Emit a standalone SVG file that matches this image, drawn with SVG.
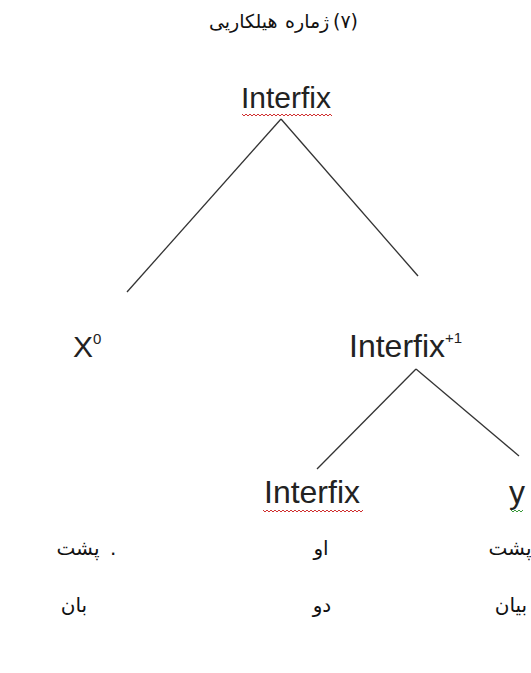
<svg xmlns="http://www.w3.org/2000/svg" width="531" height="673" viewBox="0 0 531 673">
<style>
.lat{font-family:"Liberation Sans",Arial,sans-serif;font-size:30px;fill:#222}
.big{font-size:32px}
.ar{font-family:"DejaVu Sans","Noto Sans",sans-serif;font-size:20px;fill:#111}
.tt{font-size:19px}
.sup{font-size:15px}
.edge{stroke:#333;stroke-width:1.3;fill:none}
.wavy{fill:none;stroke-width:1}
</style>
<rect width="531" height="673" fill="#fff"/>
<g id="title">
<text class="ar tt" x="209" y="28">هیلکاریی</text>
<text class="ar tt" x="285" y="28">ژماره</text>
<text class="ar tt" x="333" y="28">(۷)</text>
</g>
<g id="connectors">
<line class="edge" x1="281" y1="119" x2="127" y2="292"/>
<line class="edge" x1="281" y1="119" x2="418" y2="276"/>
<line class="edge" x1="416" y1="369" x2="317" y2="469"/>
<line class="edge" x1="416" y1="369" x2="519" y2="456"/>
</g>
<g id="n-interfix-top">
<text class="lat" x="286" y="108" text-anchor="middle">Interfix</text>
<path class="wavy" stroke="#d03030" d="M242 114 l2 2 l2 -2 l2 2 l2 -2 l2 2 l2 -2 l2 2 l2 -2 l2 2 l2 -2 l2 2 l2 -2 l2 2 l2 -2 l2 2 l2 -2 l2 2 l2 -2 l2 2 l2 -2 l2 2 l2 -2 l2 2 l2 -2 l2 2 l2 -2 l2 2 l2 -2 l2 2 l2 -2 l2 2 l2 -2 l2 2 l2 -2 l2 2 l2 -2 l2 2 l2 -2 l2 2 l2 -2 l2 2 l2 -2 l2 2 l2 -2 l2 2"/>
</g>
<g id="n-x0">
<text class="lat" x="73" y="357">X<tspan class="sup" dy="-13">0</tspan></text>
</g>
<g id="n-interfix1">
<text class="lat big" x="349" y="357">Interfix<tspan class="sup" dy="-14">+1</tspan></text>
</g>
<g id="n-interfix-bottom">
<text class="lat big" x="312" y="503" text-anchor="middle">Interfix</text>
<path class="wavy" stroke="#d03030" d="M263 510 l2 2 l2 -2 l2 2 l2 -2 l2 2 l2 -2 l2 2 l2 -2 l2 2 l2 -2 l2 2 l2 -2 l2 2 l2 -2 l2 2 l2 -2 l2 2 l2 -2 l2 2 l2 -2 l2 2 l2 -2 l2 2 l2 -2 l2 2 l2 -2 l2 2 l2 -2 l2 2 l2 -2 l2 2 l2 -2 l2 2 l2 -2 l2 2 l2 -2 l2 2 l2 -2 l2 2 l2 -2 l2 2 l2 -2 l2 2 l2 -2 l2 2 l2 -2 l2 2 l2 -2 l2 2 l2 -2"/>
</g>
<g id="n-y">
<text class="lat big" x="517" y="503" text-anchor="middle">y</text>
<path class="wavy" stroke="#3a9a3a" d="M511 510 l2 2 l2 -2 l2 2 l2 -2 l2 2 l2 -2"/>
</g>
<g id="row1">
<text class="ar" x="78" y="555" text-anchor="middle">پشت</text>
<text class="ar" x="110" y="555">.</text>
<text class="ar" x="321" y="555" text-anchor="middle">او</text>
<text class="ar" x="510" y="555" text-anchor="middle">پشت</text>
</g>
<g id="row2">
<text class="ar" x="74" y="612" text-anchor="middle">بان</text>
<text class="ar" x="322" y="612" text-anchor="middle">دو</text>
<text class="ar" x="511" y="612" text-anchor="middle">بیان</text>
</g>
</svg>
